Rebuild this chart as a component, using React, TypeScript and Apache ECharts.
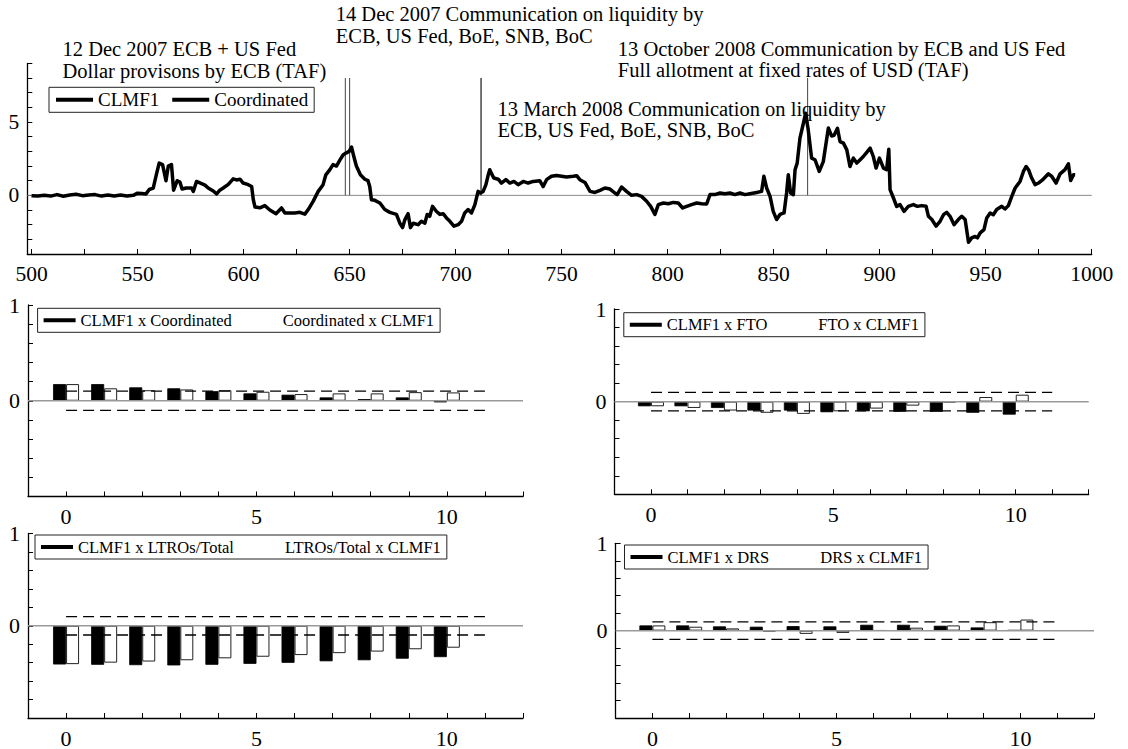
import { useEffect, useRef } from "react";
import * as echarts from "echarts";

const FONT = '"Liberation Serif", "Times New Roman", Times, serif';

// ---------- Top panel data: CLMF1 (observation index, value) ----------
const clmf1Series: [number, number][] = [
  [500, -0.02], [503, -0.05], [506, 0.0], [509, -0.05], [512, 0.05], [515, -0.06], [518, 0.02],
  [521, 0.07], [524, -0.02], [527, 0.02], [530, 0.05], [533, -0.05], [536, 0.03], [539, -0.04],
  [542, 0.02], [545, -0.04], [548, 0.0], [550, 0.15], [552, 0.13], [554, 0.1], [555.5, 0.4],
  [557.4, 0.5], [559, 1.5], [560.2, 2.2], [561.8, 2.1], [563.4, 1.0], [564.5, 2.0], [566, 2.1],
  [567, 0.35], [568.7, 1.0], [570, 0.9], [571, 0.43], [573, 0.5], [575.5, 0.5], [576.3, 0.27],
  [577.8, 0.95], [580.2, 0.8], [581.8, 0.7], [583.3, 0.5], [585.7, 0.3], [587.3, 0.1], [588.8, 0.35],
  [590.4, 0.5], [592.8, 0.75], [595.1, 1.13], [596.7, 1.05], [598.3, 1.1], [599.8, 0.84], [602.2, 0.73],
  [603.8, 0.6], [604.6, -0.3], [605.4, -0.8], [607.7, -0.85], [610, -0.7], [612.4, -1.0], [615.3, -1.25],
  [617.9, -0.86], [619.5, -1.2], [621.9, -1.2], [624.2, -1.2], [626.5, -1.16], [628.9, -1.28], [630.5, -0.97],
  [632.8, -0.41], [635.2, 0.27], [637.5, 0.73], [638.8, 1.4], [640.7, 1.75], [642.2, 2.1], [643.8, 2.0],
  [645.4, 2.4], [647, 2.77], [648.5, 2.9], [649.8, 3.0], [650.9, 3.3], [652, 2.65], [653.2, 2.0],
  [655.1, 1.4], [657.2, 1.1], [658.7, 1.0], [659.5, 0.6], [660.3, -0.3], [661.9, -0.34], [664.3, -0.52],
  [666.6, -0.97], [669, -1.16], [672.1, -1.3], [673.7, -1.9], [675, -2.2], [676.1, -1.65], [677.6, -1.25],
  [678.7, -2.2], [680, -1.9], [682.3, -2.0], [683.9, -1.77], [685.5, -1.9], [686.6, -1.3], [687.8, -1.43],
  [689.1, -0.75], [691, -1.1], [692.6, -1.3], [694.1, -1.25], [695.7, -1.54], [697.3, -1.77], [699.2, -2.1],
  [701.2, -2.0], [702.8, -1.77], [704.3, -1.2], [705.9, -0.97], [707.5, -1.2], [709.1, -0.63], [710.6, 0.27],
  [711.7, 0.16], [713, 0.27], [714.3, 0.73], [715.4, 1.4], [716.1, 1.75], [716.9, 1.5], [718, 1.18],
  [720.1, 1.1], [721.6, 0.84], [723.7, 1.07], [725.6, 0.84], [727.5, 0.95], [729.5, 0.73], [731.9, 0.95],
  [734.2, 0.84], [736.6, 0.95], [739.7, 1.0], [741.3, 0.6], [742.9, 1.07], [745.2, 1.3], [747.6, 1.36],
  [750, 1.3], [752.3, 1.25], [755.5, 1.3], [757.1, 1.34], [758.6, 1.07], [761, 0.88], [763.4, 0.27],
  [765.7, 0.2], [768.1, 0.34], [770.4, 0.5], [772.8, 0.43], [775.1, 0.16], [776.2, 0.05], [778.3, 0.57],
  [780.6, 0.27], [783, 0.0], [785.4, 0.05], [787.7, -0.07], [790.1, -0.4], [792, -0.75], [794, -1.3],
  [795.6, -0.63], [798, -0.52], [800.3, -0.57], [802.7, -0.48], [805, -0.52], [807.1, -0.86], [809, -0.75],
  [811.3, -0.63], [813.7, -0.52], [816, -0.57], [818.4, -0.59], [820, 0.05], [822.3, 0.05], [824.7, 0.16],
  [827, 0.11], [829.4, 0.16], [831.7, 0.05], [834.1, 0.16], [836.5, 0.05], [838.8, 0.11], [842, 0.2],
  [844.3, 0.27], [845.4, 1.3], [846.7, 0.5], [848.3, -0.07], [849.8, -1.09], [851.4, -1.65], [853, -1.3],
  [854.9, -1.2], [856.1, 0.16], [856.9, 1.4], [858, 0.16], [859.3, 0.05], [860.1, 1.75], [861.1, 2.2],
  [862.4, 3.9], [864, 4.9], [865.1, 5.6], [866.3, 4.47], [867.9, 2.54], [869.5, 2.43], [871.5, 1.63],
  [873.4, 2.3], [875.8, 4.6], [877.3, 4.05], [878.5, 4.1], [880.1, 4.58], [881.3, 3.67], [882.9, 3.56],
  [884.5, 3.1], [886, 1.97], [887.6, 2.54], [889.2, 2.2], [890.8, 2.43], [892.3, 2.65], [893.9, 2.93],
  [895.5, 3.22], [897, 2.65], [898.3, 1.86], [899.9, 2.54], [901.8, 1.86], [903.3, 1.75], [904.3, 3.15],
  [904.9, 0.39], [906.5, -0.18], [908, -0.75], [909.6, -0.63], [911.5, -1.09], [913.5, -0.75], [915.9, -0.63],
  [917.8, -0.75], [919.8, -0.7], [921.9, -0.75], [923, -1.43], [924.6, -1.65], [926.6, -2.1], [928.5, -1.77],
  [930.1, -1.32], [931.6, -1.16], [933.2, -1.43], [935.1, -2.0], [937.1, -1.65], [938.7, -1.43], [940.3, -1.65],
  [941.9, -3.2], [943.4, -2.9], [945, -2.8], [946.1, -2.9], [947.4, -2.56], [949.2, -2.34], [950.5, -1.54],
  [952.1, -1.2], [953.6, -1.32], [955.2, -0.97], [957.6, -0.75], [959.1, -0.93], [960.7, -0.7], [962.3, -0.07],
  [963.9, 0.5], [966.2, 0.95], [967.8, 1.63], [969.1, 1.97], [970.2, 1.75], [971.7, 1.18], [973.3, 0.73],
  [974.9, 0.84], [977.2, 1.11], [979.6, 1.47], [981.2, 1.29], [983.2, 0.84], [985.1, 1.47], [987.4, 1.75],
  [989, 2.15], [990.1, 1.02], [991.4, 1.4], [992.2, 1.4],
];

// Event dates (observation index) with vertical marker lines from 0 up to eventTop
const eventIndex = [648, 650, 712, 866];
const eventColors = ["#555", "#555", "#000", "#555"];
const eventTop = 8;

const topXRange = [498, 1000];
const topYRange = [-4, 9];
const topXTicks = [500, 525, 550, 575, 600, 625, 650, 675, 700, 725, 750, 775, 800, 825, 850, 875, 900, 925, 950, 975, 1000];
const topXLabels = [500, 550, 600, 650, 700, 750, 800, 850, 900, 950, 1000];
const topYLabels = [0, 5];
const topLegend = ["CLMF1", "Coordinated"];

// Annotation blocks (two lines each)
const annotations = [
  ["14 Dec 2007 Communication on liquidity by", "ECB, US Fed, BoE, SNB, BoC"],
  ["12 Dec 2007 ECB + US Fed", "Dollar provisons by ECB (TAF)"],
  ["13 October 2008 Communication by ECB and US Fed", "Full allotment at fixed rates of USD (TAF)"],
  ["13 March 2008 Communication on liquidity by", "ECB, US Fed, BoE, SNB, BoC"],
];

// ---------- Cross-correlation panels ----------
const lags = [0, 1, 2, 3, 4, 5, 6, 7, 8, 9, 10];
const ccfXRange = [-1, 12];
const ccfXLabels = [0, 5, 10];
const ccfYLabels = [0, 1];
const bandValue = 0.1;
const bandLags = [0, 11];

const p1Names = ["CLMF1 x Coordinated", "Coordinated x CLMF1"];
const p1Lead = [0.174, 0.174, 0.14, 0.13, 0.1, 0.077, 0.063, 0.035, 0.017, 0.035, -0.017];
const p1Lag = [0.174, 0.13, 0.11, 0.118, 0.11, 0.094, 0.07, 0.077, 0.077, 0.09, 0.087];

const p2Names = ["CLMF1 x FTO", "FTO x CLMF1"];
const p2Lead = [-0.05, -0.05, -0.068, -0.096, -0.096, -0.114, -0.104, -0.11, -0.11, -0.12, -0.14];
const p2Lag = [-0.05, -0.068, -0.096, -0.12, -0.132, -0.104, -0.075, -0.043, -0.007, 0.05, 0.075];

const p3Names = ["CLMF1 x LTROs/Total", "LTROs/Total x CLMF1"];
const p3Lead = [-0.42, -0.423, -0.427, -0.43, -0.423, -0.413, -0.402, -0.385, -0.374, -0.357, -0.34];
const p3Lag = [-0.416, -0.4, -0.388, -0.374, -0.353, -0.336, -0.318, -0.297, -0.28, -0.255, -0.238];

const p4Names = ["CLMF1 x DRS", "DRS x CLMF1"];
const p4Lead = [0.06, 0.06, 0.049, 0.045, 0.052, 0.049, 0.067, 0.067, 0.056, 0.037, 0.007];
const p4Lag = [0.06, 0.045, 0.026, -0.007, -0.037, -0.026, 0.004, 0.034, 0.06, 0.097, 0.127];

const panels = [
  { names: p1Names, lead: p1Lead, lag: p1Lag },
  { names: p2Names, lead: p2Lead, lag: p2Lag },
  { names: p3Names, lead: p3Lead, lag: p3Lag },
  { names: p4Names, lead: p4Lead, lag: p4Lag },
];

// layout (pixels)
const panelGrids = [
  { left: 28, top: 305, width: 495, height: 191.5 },
  { left: 614.5, top: 309, width: 474.2, height: 185.3 },
  { left: 28, top: 533.5, width: 495, height: 190.8 },
  { left: 615.6, top: 543.3, width: 478.4, height: 177.4 },
];
const panelLegendPos = [
  { left: 37.6, top: 308.3 },
  { left: 623.8, top: 312.7 },
  { left: 35, top: 535 },
  { left: 624.5, top: 545 },
];

const axisText = { fontFamily: FONT, color: "#000" };
const plain = (v: number) => String(v);

function buildOption() {
  const grids: any[] = [{ left: 27.3, top: 63.4, width: 1064.4, height: 190.6 }];
  const xAxes: any[] = [
    {
      type: "value",
      gridIndex: 0,
      min: topXRange[0],
      max: topXRange[1],
      axisLine: { onZero: false, lineStyle: { color: "#000", width: 1.3 } },
      axisTick: { inside: true, length: 5, customValues: topXTicks, lineStyle: { color: "#000", width: 1 } },
      axisLabel: { ...axisText, fontSize: 21.5, margin: 9, customValues: topXLabels, formatter: plain },
      splitLine: { show: false },
    },
  ];
  const yAxes: any[] = [
    {
      type: "value",
      gridIndex: 0,
      min: topYRange[0],
      max: topYRange[1],
      interval: 1,
      axisLine: { show: true, onZero: false, lineStyle: { color: "#000", width: 1.3 } },
      axisTick: { show: true, inside: true, length: 5, lineStyle: { color: "#000", width: 1 } },
      axisLabel: { ...axisText, fontSize: 21.5, margin: 8, customValues: topYLabels, formatter: plain },
      splitLine: { show: false },
    },
  ];
  const series: any[] = [
    {
      type: "line",
      name: "zeroTop",
      xAxisIndex: 0,
      yAxisIndex: 0,
      data: [[topXRange[0], 0], [topXRange[1], 0]],
      symbol: "none",
      silent: true,
      lineStyle: { color: "#888", width: 1 },
      z: 1,
    },
    ...eventIndex.map((x, i) => ({
      type: "line",
      name: "event" + i,
      xAxisIndex: 0,
      yAxisIndex: 0,
      data: [[x, 0], [x, eventTop]],
      symbol: "none",
      silent: true,
      lineStyle: { color: eventColors[i], width: 1.1 },
      z: 2,
    })),
    {
      type: "line",
      name: topLegend[0],
      xAxisIndex: 0,
      yAxisIndex: 0,
      data: clmf1Series,
      symbol: "none",
      lineStyle: { color: "#000", width: 3.5, join: "round" },
      itemStyle: { color: "#000" },
      z: 5,
    },
    {
      type: "line",
      name: topLegend[1],
      xAxisIndex: 0,
      yAxisIndex: 0,
      data: [],
      symbol: "none",
      lineStyle: { color: "#000", width: 3.5 },
      itemStyle: { color: "#000" },
    },
  ];
  const legends: any[] = [
    {
      left: 49,
      top: 87.3,
      orient: "horizontal",
      padding: [3, 6, 3, 7],
      itemGap: 13,
      itemWidth: 37,
      itemHeight: 4,
      icon: "rect",
      borderColor: "#222",
      borderWidth: 1,
      backgroundColor: "#fff",
      selectedMode: false,
      data: topLegend.map((n) => ({ name: n, itemStyle: { color: "#000" } })),
      textStyle: { fontFamily: FONT, fontSize: 19, color: "#000" },
    },
  ];

  panels.forEach((p, k) => {
    const gi = k + 1;
    grids.push(panelGrids[k]);
    xAxes.push({
      type: "value",
      gridIndex: gi,
      min: ccfXRange[0],
      max: ccfXRange[1],
      interval: 1,
      axisLine: { onZero: false, lineStyle: { color: "#000", width: 1.3 } },
      axisTick: { inside: true, length: 5, lineStyle: { color: "#000", width: 1 } },
      axisLabel: { ...axisText, fontSize: 22, margin: 9, customValues: ccfXLabels, formatter: plain },
      splitLine: { show: false },
    });
    yAxes.push({
      type: "value",
      gridIndex: gi,
      min: -1,
      max: 1,
      interval: 0.2,
      axisLine: { show: true, onZero: false, lineStyle: { color: "#000", width: 1.3 } },
      axisTick: { show: true, inside: true, length: 5, lineStyle: { color: "#000", width: 1 } },
      axisLabel: { ...axisText, fontSize: 22, margin: 8, customValues: ccfYLabels, formatter: plain },
      splitLine: { show: false },
    });
    series.push(
      {
        type: "bar",
        name: p.names[0],
        xAxisIndex: gi,
        yAxisIndex: gi,
        data: lags.map((l, i) => [l, p.lead[i]]),
        barWidth: 13,
        barGap: "0%",
        itemStyle: { color: "#000", borderColor: "#000", borderWidth: 0.8 },
        z: 2,
      },
      {
        type: "bar",
        name: p.names[1],
        xAxisIndex: gi,
        yAxisIndex: gi,
        data: lags.map((l, i) => [l, p.lag[i]]),
        barWidth: 13,
        barGap: "0%",
        itemStyle: { color: "#fff", borderColor: "#222", borderWidth: 1 },
        z: 2,
      },
      {
        type: "line",
        name: "zero" + gi,
        xAxisIndex: gi,
        yAxisIndex: gi,
        data: [[ccfXRange[0], 0], [ccfXRange[1], 0]],
        symbol: "none",
        silent: true,
        lineStyle: { color: "#999", width: 1.5 },
        z: 3,
      },
      {
        type: "line",
        name: "bandUp" + gi,
        xAxisIndex: gi,
        yAxisIndex: gi,
        data: [[bandLags[0], bandValue], [bandLags[1], bandValue]],
        symbol: "none",
        silent: true,
        lineStyle: { color: "#000", width: 1.3, type: [11, 6] },
        z: 4,
      },
      {
        type: "line",
        name: "bandDown" + gi,
        xAxisIndex: gi,
        yAxisIndex: gi,
        data: [[bandLags[0], -bandValue], [bandLags[1], -bandValue]],
        symbol: "none",
        silent: true,
        lineStyle: { color: "#000", width: 1.3, type: [11, 6] },
        z: 4,
      }
    );
    legends.push({
      left: panelLegendPos[k].left,
      top: panelLegendPos[k].top,
      orient: "horizontal",
      padding: [3.5, 6, 3.5, 6],
      itemGap: 14,
      itemWidth: 32,
      itemHeight: 4,
      borderColor: "#222",
      borderWidth: 1,
      backgroundColor: "#fff",
      selectedMode: false,
      data: [
        { name: p.names[0], icon: "rect", itemStyle: { color: "#000", borderWidth: 0 } },
        { name: p.names[1], icon: "rect", itemStyle: { color: "rgba(0,0,0,0)", borderWidth: 0 } },
      ],
      textStyle: { fontFamily: FONT, fontSize: 16.5, color: "#000" },
    });
  });

  // block positions: left x, vertical centre, line height
  const annoPos = [
    [335.7, 25, 21.5],
    [62.5, 60, 21.5],
    [617.8, 59.3, 21.5],
    [497.5, 119.3, 21.5],
  ];
  const graphic = annotations.map((lines, i) => ({
    type: "text",
    x: annoPos[i][0],
    y: annoPos[i][1],
    silent: true,
    z: 10,
    style: {
      text: lines.join("\n"),
      fill: "#000",
      fontFamily: FONT,
      fontSize: 20.5,
      lineHeight: annoPos[i][2],
      verticalAlign: "middle",
    },
  }));

  return {
    animation: false,
    backgroundColor: "#fff",
    grid: grids,
    xAxis: xAxes,
    yAxis: yAxes,
    legend: legends,
    series,
    graphic,
  };
}

export default function App() {
  const ref = useRef<HTMLDivElement>(null);
  useEffect(() => {
    if (!ref.current) return;
    const chart = echarts.init(ref.current, undefined, { renderer: "svg" });
    chart.setOption(buildOption() as any);
    return () => chart.dispose();
  }, []);
  return (
    <div
      ref={ref}
      style={{ position: "fixed", left: 0, top: 0, width: 1128, height: 749, background: "#fff" }}
    />
  );
}
